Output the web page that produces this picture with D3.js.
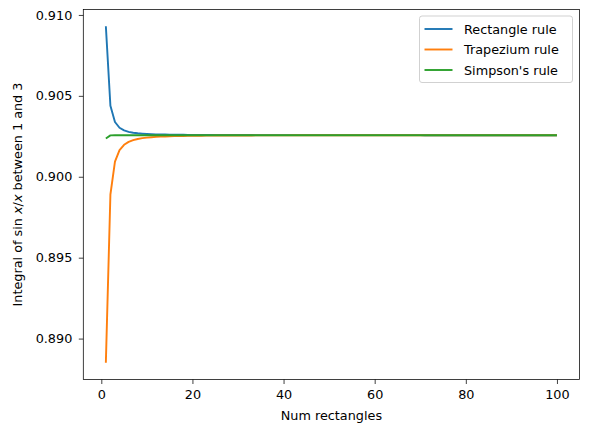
<!DOCTYPE html>
<html><head><meta charset="utf-8">
<script src="https://cdn.jsdelivr.net/npm/d3@7"></script>
<style>body{margin:0;background:#fff}svg{display:block}text{font-family:"DejaVu Sans",sans-serif}</style>
</head><body>
<svg id="c" width="589" height="432"></svg>
<script>
const numRects = [1,2,3,4,5,6,7,8,9,10,11,12,13,14,15,16,17,18,19,20,21,22,23,24,25,26,27,28,29,30,31,32,33,34,35,36,37,38,39,40,41,42,43,44,45,46,47,48,49,50,51,52,53,54,55,56,57,58,59,60,61,62,63,64,65,66,67,68,69,70,71,72,73,74,75,76,77,78,79,80,81,82,83,84,85,86,87,88,89,90,91,92,93,94,95,96,97,98,99,100];
const rectangleRule = [0.909297,0.904386,0.903385,0.903030,0.902865,0.902775,0.902720,0.902685,0.902661,0.902643,
0.902630,0.902621,0.902613,0.902607,0.902602,0.902598,0.902595,0.902592,0.902590,0.902588,
0.902586,0.902584,0.902583,0.902582,0.902581,0.902580,0.902579,0.902579,0.902578,0.902577,
0.902577,0.902576,0.902576,0.902575,0.902575,0.902575,0.902574,0.902574,0.902574,0.902574,
0.902573,0.902573,0.902573,0.902573,0.902573,0.902573,0.902572,0.902572,0.902572,0.902572,
0.902572,0.902572,0.902572,0.902572,0.902571,0.902571,0.902571,0.902571,0.902571,0.902571,
0.902571,0.902571,0.902571,0.902571,0.902571,0.902571,0.902571,0.902571,0.902571,0.902571,
0.902570,0.902570,0.902570,0.902570,0.902570,0.902570,0.902570,0.902570,0.902570,0.902570,
0.902570,0.902570,0.902570,0.902570,0.902570,0.902570,0.902570,0.902570,0.902570,0.902570,
0.902570,0.902570,0.902570,0.902570,0.902570,0.902570,0.902570,0.902570,0.902570,0.902570];
const trapeziumRule = [0.888511,0.898904,0.900930,0.901645,0.901977,0.902157,0.902266,0.902337,0.902386,0.902421,
0.902446,0.902466,0.902481,0.902493,0.902503,0.902511,0.902518,0.902523,0.902528,0.902532,
0.902535,0.902538,0.902541,0.902543,0.902545,0.902547,0.902549,0.902550,0.902551,0.902552,
0.902554,0.902555,0.902555,0.902556,0.902557,0.902558,0.902558,0.902559,0.902559,0.902560,
0.902560,0.902561,0.902561,0.902561,0.902562,0.902562,0.902562,0.902563,0.902563,0.902563,
0.902563,0.902564,0.902564,0.902564,0.902564,0.902564,0.902564,0.902565,0.902565,0.902565,
0.902565,0.902565,0.902565,0.902565,0.902565,0.902566,0.902566,0.902566,0.902566,0.902566,
0.902566,0.902566,0.902566,0.902566,0.902566,0.902566,0.902566,0.902567,0.902567,0.902567,
0.902567,0.902567,0.902567,0.902567,0.902567,0.902567,0.902567,0.902567,0.902567,0.902567,
0.902567,0.902567,0.902567,0.902567,0.902567,0.902568,0.902568,0.902568,0.902568,0.902568];
const simpsonsRule = [0.902368,0.902556,0.902567,0.902568,0.902569,0.902569,0.902569,0.902569,0.902569,0.902569,
0.902569,0.902569,0.902569,0.902569,0.902569,0.902569,0.902569,0.902569,0.902569,0.902569,
0.902569,0.902569,0.902569,0.902569,0.902569,0.902569,0.902569,0.902569,0.902569,0.902569,
0.902569,0.902569,0.902569,0.902569,0.902569,0.902569,0.902569,0.902569,0.902569,0.902569,
0.902569,0.902569,0.902569,0.902569,0.902569,0.902569,0.902569,0.902569,0.902569,0.902569,
0.902569,0.902569,0.902569,0.902569,0.902569,0.902569,0.902569,0.902569,0.902569,0.902569,
0.902569,0.902569,0.902569,0.902569,0.902569,0.902569,0.902569,0.902569,0.902569,0.902569,
0.902569,0.902569,0.902569,0.902569,0.902569,0.902569,0.902569,0.902569,0.902569,0.902569,
0.902569,0.902569,0.902569,0.902569,0.902569,0.902569,0.902569,0.902569,0.902569,0.902569,
0.902569,0.902569,0.902569,0.902569,0.902569,0.902569,0.902569,0.902569,0.902569,0.902569];
const seriesNames = ["Rectangle rule","Trapezium rule","Simpson's rule"];
const seriesColors = ["#1f77b4","#ff7f0e","#2ca02c"];
const xTicks = [0,20,40,60,80,100];
const yTicks = [0.890,0.895,0.900,0.905,0.910];

const svg = d3.select("#c");
const L=83.3, R=579.5, T=9.5, B=379.5;
const all = rectangleRule.concat(trapeziumRule, simpsonsRule);
const xmin=d3.min(numRects), xmax=d3.max(numRects);
const ymin=d3.min(all), ymax=d3.max(all);
const xm=(xmax-xmin)*0.05, ym=(ymax-ymin)*0.05;
const x=d3.scaleLinear().domain([xmin-xm,xmax+xm]).range([L,R]);
const y=d3.scaleLinear().domain([ymin-ym,ymax+ym]).range([B,T]);

const series=[rectangleRule,trapeziumRule,simpsonsRule];
const line=d3.line().x((d,i)=>x(numRects[i])).y(d=>y(d));
svg.append("clipPath").attr("id","cp").append("rect").attr("x",L).attr("y",T).attr("width",R-L).attr("height",B-T);
series.forEach((s,k)=>{
  svg.append("path").datum(s).attr("d",line).attr("fill","none")
    .attr("stroke",seriesColors[k]).attr("stroke-width",1.92).attr("stroke-linejoin","round").attr("stroke-linecap","butt")
    .attr("clip-path","url(#cp)");
});

const fs=12.8;
const xa=svg.append("g").attr("transform",`translate(0,${B})`)
  .call(d3.axisBottom(x).tickValues(xTicks).tickSize(4.5).tickPadding(6.2).tickFormat(d3.format("d")));
const ya=svg.append("g").attr("transform",`translate(${L},0)`)
  .call(d3.axisLeft(y).tickValues(yTicks).tickSize(4.5).tickPadding(6.5).tickFormat(d3.format(".3f")));
[xa,ya].forEach(g=>{
  g.select(".domain").remove();
  g.selectAll("line").attr("stroke","#000").attr("stroke-width",0.75);
  g.selectAll("text").attr("font-size",fs).attr("fill","#000").attr("font-family","DejaVu Sans");
});
svg.append("rect").attr("x",L).attr("y",T).attr("width",R-L).attr("height",B-T)
  .attr("fill","none").attr("stroke","#000").attr("stroke-width",0.75);

svg.append("text").attr("x",(L+R)/2).attr("y",419.5).attr("text-anchor","middle").attr("font-size",fs).text("Num rectangles");
const yl=svg.append("text").attr("transform",`translate(21.5,${(T+B)/2}) rotate(-90)`).attr("text-anchor","middle").attr("font-size",fs);
yl.append("tspan").text("Integral of sin ");
yl.append("tspan").attr("font-style","italic").text("x");
yl.append("tspan").text("/");
yl.append("tspan").attr("font-style","italic").text("x");
yl.append("tspan").text(" between 1 and 3");

const lg=svg.append("g");
lg.append("rect").attr("x",419.5).attr("y",16).attr("width",153).attr("height",66.5).attr("rx",2.5)
  .attr("fill","#fff").attr("fill-opacity",0.8).attr("stroke","#cccccc").attr("stroke-width",0.9);
seriesNames.forEach((n,k)=>{
  const yy=29+k*20.5;
  lg.append("line").attr("x1",424.5).attr("x2",452.5).attr("y1",yy).attr("y2",yy).attr("stroke",seriesColors[k]).attr("stroke-width",1.92);
  lg.append("text").attr("x",464).attr("y",yy+4.5).attr("font-size",fs).text(n);
});
</script>
</body></html>
